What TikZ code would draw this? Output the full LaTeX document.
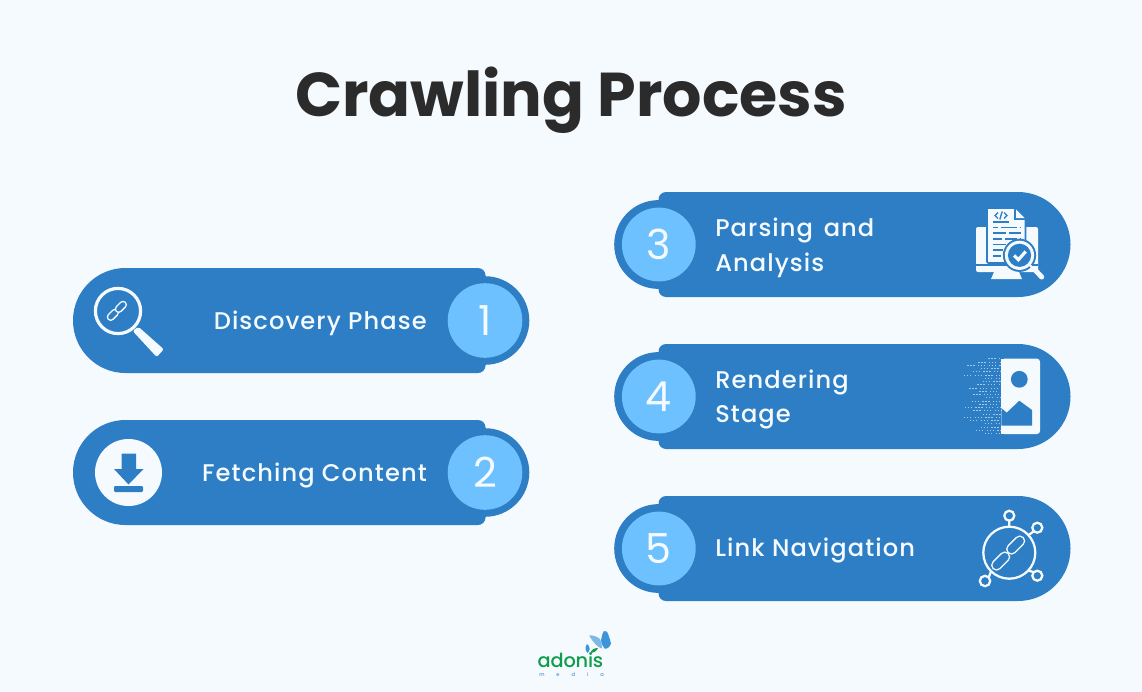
\documentclass[tikz,border=0pt]{standalone}
\usepackage{fontspec}
\setmainfont{Poppins}[UprightFont=* Medium,BoldFont=* Bold]
\newfontfamily\spacedfont{Poppins}[UprightFont=* Medium,LetterSpace=4.5]
\newfontfamily\digitfont{Poppins}
\newfontfamily\logofont{Poppins}[UprightFont=* Medium,LetterSpace=-1]
\definecolor{pagebg}{HTML}{F5FAFF}
\definecolor{pill}{HTML}{2D7EC4}
\definecolor{disc}{HTML}{6DC1FF}
\definecolor{titleink}{HTML}{2B2B2B}
\definecolor{logogreen}{HTML}{0F9D4A}
\definecolor{wingdark}{HTML}{3D94D8}
\definecolor{winglight}{HTML}{7DB8E6}
\tikzset{
  x=0.75pt,y=-0.75pt,
  titletext/.style={font=\fontsize{46.4pt}{47pt}\selectfont\bfseries,text=titleink,inner sep=0},
  label/.style={font=\fontsize{18.1pt}{20pt}\spacedfont,text=pagebg,inner sep=0},
  digit/.style={font=\fontsize{31pt}{32pt}\digitfont,text=pagebg,inner sep=0},
}
\newcommand{\leftpill}[3]{%
  \fill[pill] (125.5,#1+52.5) arc[start angle=90,end angle=270,radius=52.5]
    -- (478,#1-52.5) arc[start angle=270,end angle=360,radius=7.5]
    -- (485.5,#1+45) arc[start angle=0,end angle=90,radius=7.5] -- cycle;
  \fill[pill] (485,#1) circle[radius=44.3];
  \fill[disc] (485,#1) circle[radius=37.3];
  \node[digit,anchor=base] (#2) at (485,#1+15) {#3};
}
\newcommand{\rightpill}[3]{%
  \fill[pill] (1018,#1-52.5) arc[start angle=270,end angle=450,radius=52.5]
    -- (666,#1+52.5) arc[start angle=90,end angle=180,radius=7.5]
    -- (658.5,#1-45) arc[start angle=180,end angle=270,radius=7.5] -- cycle;
  \fill[pill] (658.6,#1) circle[radius=44.4];
  \fill[disc] (658.8,#1) circle[radius=36.9];
  \node[digit,anchor=base] (#2) at (658.5,#1+15) {#3};
}
\newcommand{\chainlink}[5]{% x1 y1 x2 y2 width(px)
  \draw[pagebg,line cap=round,line width=#5*0.75pt] (#1,#2) -- (#3,#4);
  \draw[pill,line cap=round,line width=(#5-3)*0.75pt] (#1,#2) -- (#3,#4);
}
\begin{document}
\begin{tikzpicture}
\useasboundingbox (0,0) rectangle (1142,692);
\fill[pagebg] (0,0) rectangle (1142,692);
\node[titletext,anchor=base] (title) at (571,116) {Crawling Process};

\leftpill{320.5}{d1}{1}
\leftpill{472.5}{d2}{2}
\rightpill{244.5}{d3}{3}
\rightpill{396.5}{d4}{4}
\rightpill{548.5}{d5}{5}

\node[label,anchor=base east] (l1) at (427,329) {Discovery Phase};
\node[label,anchor=base east] (l2) at (427,481) {Fetching Content};
\node[label,anchor=base west] (l3a) at (715,236) {Parsing\kern2.5pt{} and};
\node[label,anchor=base west] (l3b) at (715,271) {Analysis};
\node[label,anchor=base west] (l4a) at (715,388) {Rendering};
\node[label,anchor=base west] (l4b) at (715,422) {Stage};
\node[label,anchor=base west] (l5) at (715,556) {Link Navigation};

% magnifier with chain
\draw[pagebg,line width=2.4pt] (118,311) circle[radius=22.6];
\fill[pagebg,rounded corners=1.5pt] (138.3,326.7) -- (163.8,349.3) -- (156.7,357) -- (132.7,331) -- cycle;
\chainlink{110.7}{317}{115}{312.7}{8}
\chainlink{118.7}{309}{123}{304.7}{8}

% download
\fill[pagebg] (128.5,472.5) circle[radius=33.5];
\fill[pill] (121.5,453.5) -- (136,453.5) -- (136,469) -- (143.5,469) -- (128.5,484.5) -- (114,469) -- (121.5,469) -- cycle;
\fill[pill,rounded corners=0.8pt] (114,486) rectangle (143,492);

% document and monitor
\fill[pagebg,rounded corners=1.5pt] (976,227) rectangle (1038,272);
\draw[pill,line width=1pt] (976,265) -- (1038,265);
\fill[pagebg] (991,279) -- (994,272) -- (1019,272) -- (1022,279) -- cycle;
\draw[pill,line width=1.2pt,fill=pagebg,rounded corners=1pt] (987,208) -- (1015,208) -- (1025.5,219) -- (1025.5,263) -- (987,263) -- cycle;
\draw[pill,line width=1pt,fill=pill] (1014.5,208) -- (1014.5,219.5) -- (1025.5,219.5);
\fill[pagebg] (1016,209.5) -- (1024.5,218) -- (1016,218) -- cycle;
\draw[pill,line width=1pt] (998,212.5) -- (995,215.5) -- (998,218.5) (1004,212.5) -- (1007,215.5) -- (1004,218.5) (1002.2,211.5) -- (999.8,219.5);
\draw[pill,line width=1.2pt,dash pattern=on 12pt off 2pt] (993,221.7) -- (1011,221.7);
\draw[pill,line width=1.2pt,dash pattern=on 4pt off 2pt on 12pt off 2pt] (993,227.3) -- (1021,227.3);
\draw[pill,line width=1.2pt,dash pattern=on 10pt off 2pt] (993,232.7) -- (1021,232.7);
\draw[pill,line width=1.2pt,dash pattern=on 7pt off 2pt on 9pt off 2pt] (993,239) -- (1021,239);
\draw[pill,line width=1.2pt] (993,244.3) -- (1006,244.3) (993,250) -- (1003,250) (993,255.7) -- (1001,255.7);
\fill[pill] (1019.5,255.3) circle[radius=16.6];
\fill[pagebg] (1019.5,255.3) circle[radius=14.6];
\fill[pill] (1019.5,255.3) circle[radius=11.6];
\draw[pagebg,line width=2.4pt] (1014,255.5) -- (1018.4,259.7) -- (1025.7,251.5);
\draw[pagebg,line width=1.6pt] (1030,265.5) -- (1035,270);
\draw[pagebg,line width=3.8pt,line cap=round] (1036,271) -- (1041.7,277);

% image with dots
\fill[pagebg,rounded corners=2.2pt] (1001.3,358.7) -- (1040,358.7) -- (1040,434) -- (1001.3,434) -- cycle;
\fill[pagebg] (1001.3,358.7) rectangle (1010,434);
\fill[pill] (1019.3,379.3) circle[radius=8.4];
\fill[pill] (1001.3,408) -- (1006.7,412.7) -- (1019.3,400.7) -- (1032,410) -- (1032,425.7) -- (1001.3,425.7) -- cycle;
\foreach \row/\start in {0/145,1/115,2/82,3/122,4/98,5/72,6/135,7/128,8/112,9/88,10/118,11/100,12/138,13/95,14/118,15/74,16/100,17/128,18/72,19/90,20/135,21/122,22/108,23/135}{
  \draw[pagebg,opacity=.6,line width=0.6pt,dash pattern=on 1pt off 1.2pt on 1pt off 1.2pt on 1pt off 2.6pt] ({940+\start/3},{358.7+\row*3.25}) -- (1001,{358.7+\row*3.25});
}

% link network
\draw[pagebg,line width=1.7pt] (1009.3,552.7) circle[radius=26];
\draw[pagebg,line width=1.7pt,fill=pill] (1009.3,515.7) circle[radius=5];
\draw[pagebg,line width=1.7pt,fill=pill] (1037.3,527.7) circle[radius=5];
\draw[pagebg,line width=1.7pt,fill=pill] (1037.3,575.7) circle[radius=5];
\draw[pagebg,line width=1.7pt,fill=pill] (985,581) circle[radius=5.2];
\draw[pagebg,line width=1.7pt] (1009.3,520.7) -- (1009.3,526.7)
  (1033.7,531.3) -- (1028,535.5)
  (1033.7,572.1) -- (1028,570.5)
  (988.7,577.3) -- (991,571.5);
\chainlink{996.5}{565.2}{1004.8}{556.9}{11}
\chainlink{1011.5}{549.2}{1019.8}{540.9}{11}

% logo
\node[font=\fontsize{14.5pt}{15pt}\logofont,text=logogreen,inner sep=0,anchor=base] (logo) at (570.5,667) {adonis};
\node[font=\fontsize{3.8pt}{4pt}\digitfont,text=pill,inner sep=0,anchor=base] (media) at (571.5,676.5) {m\hspace{9pt}e\hspace{9pt}d\hspace{9pt}i\hspace{9pt}a};
\fill[winglight] (589,635.5) .. controls (593,635) and (597,636.5) .. (600,639) .. controls (601.5,642) and (602,645) .. (602,648.5) .. controls (598,648) and (593,642) .. (589,635.5) -- cycle;
\fill[wingdark] (604,631) .. controls (606.5,630.5) and (608,632) .. (608.5,635) .. controls (609,638) and (611,641) .. (611,643.5) .. controls (610,647) and (607,649.5) .. (604.5,648.5) .. controls (602.5,646) and (601,643) .. (601,640.5) .. controls (601.5,637) and (602.5,633) .. (604,631) -- cycle;
\fill[wingdark] (587,644) .. controls (591,647) and (590,651) .. (587.5,653) .. controls (585,650) and (585,647) .. (587,644) -- cycle;
\fill[logogreen] (598,648) .. controls (596,652) and (593,653) .. (590.5,653) .. controls (591,650) and (594,648) .. (598,648) -- cycle;
\end{tikzpicture}
\end{document}
